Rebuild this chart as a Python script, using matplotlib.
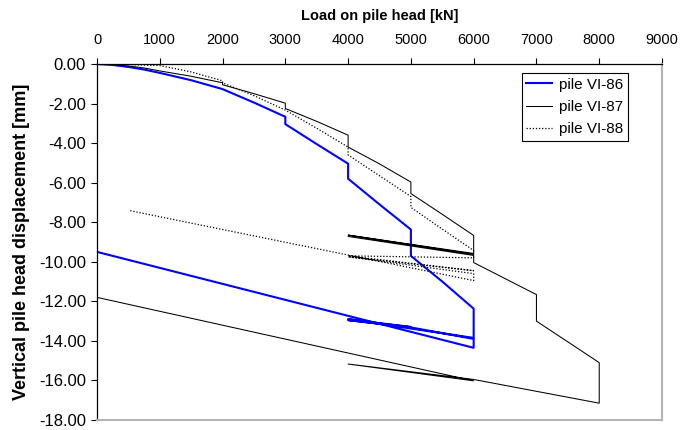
import matplotlib
matplotlib.use("Agg")
import matplotlib.pyplot as plt

plt.rcParams['font.family'] = ['Liberation Sans', 'DejaVu Sans']

# Pile VI-86 (load kN, displacement mm)
load_86 = [0, 250, 500, 750, 1000, 1500, 2000, 2500, 3000, 3000, 3500, 4000, 4000,
           4500, 5000, 5000, 5000, 5500, 6000, 6000, 4000, 5000, 4000, 5000, 6000, 6000, 0]
disp_86 = [0.00, -0.05, -0.15, -0.28, -0.45, -0.82, -1.27, -1.95, -2.67, -3.04, -4.05, -5.04, -5.80,
           -7.10, -8.37, -9.00, -9.70, -11.00, -12.37, -13.85, -12.90, -13.30, -12.95, -13.32, -13.90, -14.35, -9.50]

# Pile VI-87
load_87 = [0, 250, 500, 750, 1000, 1500, 2000, 2000, 2500, 3000, 3000, 3500, 4000, 4000,
           4500, 5000, 5000, 5500, 6000, 6000, 4000, 6000, 4000, 6000, 6000, 7000, 7000,
           7500, 8000, 8000, 6000, 4000, 6000, 0, 0]
disp_87 = [0.00, -0.03, -0.10, -0.20, -0.35, -0.62, -0.95, -1.05, -1.50, -1.98, -2.25, -2.90, -3.60, -4.20,
           -5.05, -5.97, -6.55, -7.60, -8.67, -9.58, -8.65, -9.62, -8.72, -9.68, -10.04, -11.66, -13.00,
           -14.05, -15.10, -17.15, -15.95, -15.17, -16.02, -11.80, -11.55]

# Pile VI-88
load_88 = [0, 500, 1000, 1500, 2000, 2000, 2500, 3000, 3500, 4000, 4000, 4500, 5000, 5000,
           5500, 6000, 6000, 4000, 6000, 4000, 6000, 6000, 500]
disp_88 = [0.00, -0.03, -0.08, -0.40, -0.85, -0.95, -1.60, -2.33, -3.25, -4.20, -4.60, -5.65, -6.70, -7.25,
           -8.35, -9.43, -9.80, -9.70, -10.45, -9.75, -10.60, -10.95, -7.40]

x_ticks = [0, 1000, 2000, 3000, 4000, 5000, 6000, 7000, 8000, 9000]
y_ticks = [0, -2, -4, -6, -8, -10, -12, -14, -16, -18]

fig = plt.figure(figsize=(6.95, 4.30), dpi=100)
ax = fig.add_axes([97/695, 1-420/430, (662-97)/695, (420-64)/430])

ax.plot(load_86, disp_86, color='#0000ff', lw=1.5, label='pile VI-86')
ax.plot(load_87, disp_87, color='black', lw=0.75, label='pile VI-87')
ax.plot(load_88, disp_88, color='black', lw=0.9, linestyle=(0, (1, 1.5)), label='pile VI-88')

ax.set_xlim(0, 9000)
ax.set_ylim(-18, 0)
ax.set_xticks(x_ticks)
ax.set_xticklabels([str(v) for v in x_ticks])
ax.set_yticks(y_ticks)
ax.set_yticklabels([f"{v:.2f}" for v in y_ticks])

ax.xaxis.tick_top()
ax.xaxis.set_label_position('top')
ax.tick_params(axis='both', direction='out', length=4, width=0.8, colors='black')
ax.tick_params(axis='x', pad=8, labelsize=10.5)
ax.tick_params(axis='y', pad=4, labelsize=12)

for s in ['top', 'left']:
    ax.spines[s].set_color('black')
    ax.spines[s].set_linewidth(0.9)
for s in ['right', 'bottom']:
    ax.spines[s].set_color('#b4b4b4')
    ax.spines[s].set_linewidth(1.5)

ax.set_xlabel('Load on pile head [kN]', fontsize=10.5, fontweight='bold')
ax.xaxis.set_label_coords(0.5, (420-20)/356)
ax.set_ylabel('Vertical pile head displacement [mm]', fontsize=13, fontweight='bold')
ax.yaxis.set_label_coords((30-97)/565, 0.5)

leg = ax.legend(loc='upper right', bbox_to_anchor=(628/695, 1-73/430),
                bbox_transform=fig.transFigure, borderaxespad=0, fancybox=False,
                framealpha=1, edgecolor='black', fontsize=11, handlelength=1.7,
                handletextpad=0.45, labelspacing=0.55, borderpad=0.3)
leg.get_frame().set_linewidth(0.8)

fig.savefig('out.png', dpi=100)
